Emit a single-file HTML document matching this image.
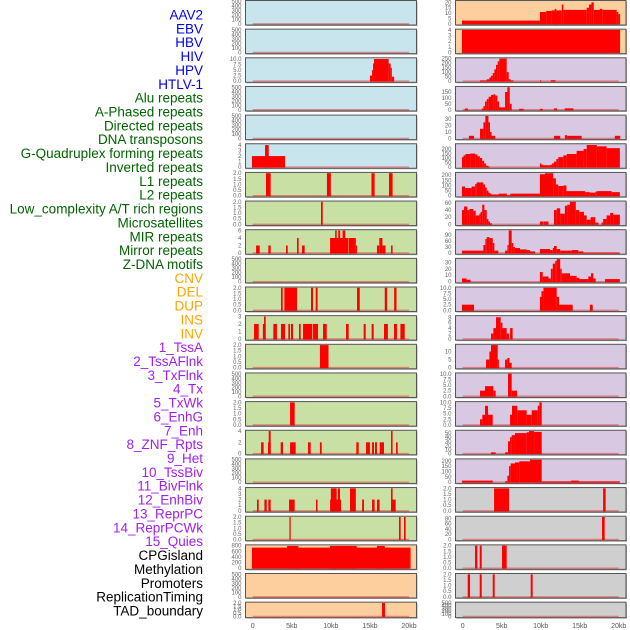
<!DOCTYPE html>
<html><head><meta charset="utf-8"><style>
html,body{margin:0;padding:0;background:#fff;}
svg{display:block;font-family:"Liberation Sans",sans-serif;}
</style></head><body>
<svg id="chart" width="630" height="630" viewBox="0 0 630 630" xmlns="http://www.w3.org/2000/svg"></svg>
<script>
// ---------- data ----------
const labelNames = ["AAV2","EBV","HBV","HIV","HPV","HTLV-1","Alu repeats","A-Phased repeats","Directed repeats","DNA transposons","G-Quadruplex forming repeats","Inverted repeats","L1 repeats","L2 repeats","Low_complexity A/T rich regions","Microsatellites","MIR repeats","Mirror repeats","Z-DNA motifs","CNV","DEL","DUP","INS","INV","1_TssA","2_TssAFlnk","3_TxFlnk","4_Tx","5_TxWk","6_EnhG","7_Enh","8_ZNF_Rpts","9_Het","10_TssBiv","11_BivFlnk","12_EnhBiv","13_ReprPC","14_ReprPCWk","15_Quies","CPGisland","Methylation","Promoters","ReplicationTiming","TAD_boundary"];
const labelColors = ["#0000ee","#0000ee","#0000ee","#0000ee","#0000ee","#0000ee","#006400","#006400","#006400","#006400","#006400","#006400","#006400","#006400","#006400","#006400","#006400","#006400","#006400","#ffa500","#ffa500","#ffa500","#ffa500","#ffa500","#a020f0","#a020f0","#a020f0","#a020f0","#a020f0","#a020f0","#a020f0","#a020f0","#a020f0","#a020f0","#a020f0","#a020f0","#a020f0","#a020f0","#a020f0","#000","#000","#000","#000","#000"];
const xTickLabels = ["0","5kb","10kb","15kb","20kb"];
const xTickValues = [0,5,10,15,20];

const T500=["0","100","200","300","400","500"], T2=["0.0","0.5","1.0","1.5","2.0"], T10=["0.0","2.5","5.0","7.5","10.0"];
const panelColors = [
 "#c8e4ec","#c8e4ec","#c8e4ec","#c8e4ec","#c8e4ec","#c8e4ec",
 "#c8e0a3","#c8e0a3","#c8e0a3","#c8e0a3","#c8e0a3","#c8e0a3","#c8e0a3","#c8e0a3","#c8e0a3","#c8e0a3","#c8e0a3","#c8e0a3","#c8e0a3",
 "#fdcf9e","#fdcf9e","#fdcf9e",
 "#fdcf9e","#fdcf9e",
 "#d8c8e2","#d8c8e2","#d8c8e2","#d8c8e2","#d8c8e2","#d8c8e2","#d8c8e2","#d8c8e2","#d8c8e2","#d8c8e2","#d8c8e2","#d8c8e2","#d8c8e2","#d8c8e2","#d8c8e2",
 "#cfcfcf","#cfcfcf","#cfcfcf","#cfcfcf","#cfcfcf"];
const panelMax = [500,500,10.2,500,500,4.1,2,2,6,500,2,3,2,500,2,4,500,4,2,800,500,2,
 21,4,250,190,35,250,220,63,113,35,10,8.3,14,10,10,55,210,2,85,2,2,500];
const panelTicks = [T500,T500,T10,T500,T500,["0","1","2","3","4"],T2,T2,["0","2","4","6"],T500,T2,["0","1","2","3"],T2,T500,T2,["0","2","4"],T500,["0","1","2","3","4"],T2,["0","200","400","600","800"],T500,T2,
 ["0","5","10","15","20"],["0","1","2","3","4"],["0","50","100","150","200","250"],["0","50","100","150"],["0","10","20","30"],["0","50","100","150","200"],["0","50","100","150","200"],["0","20","40","60"],["0","30","60","90"],["0","10","20","30"],T10,["0","2","4","6","8"],["0","5","10"],T10,T10,["0","10","20","30","40","50"],["0","50","100","150","200"],T2,["0","20","40","60","80"],T2,T2,T500];
const panelSegs = [
 [],[],
 [[15.0,15.27,2.5],[15.27,15.4,5],[15.4,15.52,8],[15.52,17.4,10],[17.4,17.65,8],[17.65,17.8,6],[17.8,18.1,2]],
 [],[],
 [[-0.1,4.14,2],[1.58,2.05,4]],
 [[1.7,2.3,2],[9.5,10.0,2],[15.2,15.6,2],[17.44,17.9,2]],
 [[8.74,8.96,2]],
 [[0.43,0.9,2],[2.0,2.3,2],[4.26,4.48,2],[5.67,5.88,4],[6.3,6.65,2],[9.9,12.24,4],[10.55,10.75,6],[10.95,11.2,6],[11.5,11.85,6],[12.3,13.2,4],[13.2,13.35,2],[15.9,16.2,2],[16.2,16.6,4],[16.6,17.0,2],[17.7,17.9,2]],
 [],
 [[3.62,3.84,2],[4.05,5.67,2],[7.46,7.72,2],[8.06,8.3,2],[13.35,13.7,2],[16.9,17.2,2],[18.1,18.4,2]],
 [[0.17,0.77,2],[1.3,1.66,2],[1.45,1.66,3],[2.64,3.1,2],[3.62,4.14,2],[4.56,4.78,2],[4.9,5.16,2],[5.93,6.14,2],[6.44,7.63,2],[7.72,8.36,2],[9.0,9.47,2],[11.94,12.28,2],[14.2,14.46,2],[15.22,15.48,2],[16.8,17.3,2],[18.08,18.46,2],[18.9,19.45,2]],
 [[8.6,9.7,2]],
 [],
 [[4.78,5.37,2]],
 [[1.07,1.4,2],[1.96,2.3,2],[2.05,2.3,4],[3.58,3.88,2],[4.78,5.5,2],[7.08,7.42,2],[8.6,8.83,2],[13.26,13.56,2],[14.5,15.0,2],[15.27,15.52,2],[15.65,15.9,2],[16.25,16.8,2],[17.7,17.9,4],[18.34,18.55,2]],
 [],
 [[0.55,0.77,2],[1.5,1.8,2],[2.0,2.3,2],[4.65,5.37,2],[8.1,8.3,2],[9.9,11.3,2],[10.0,10.75,4],[10.9,11.17,4],[12.45,13.2,4],[14.0,14.24,2],[15.27,15.6,2],[15.9,16.24,2],[17.7,18.3,2],[17.7,17.9,4]],
 [[4.7,4.86,2],[18.72,18.93,2],[19.36,19.57,2]],
 [[-0.1,20.2,730],[4.4,5.84,790],[9.9,13.3,790],[15.9,16.9,790]],
 [],
 [[16.55,16.93,2]],
 // right column
 [[-0.1,9.9,3],[9.9,10.7,11],[10.7,11.4,12],[11.4,12.7,12.5],[11.8,12.0,14],[12.7,12.9,18],[12.9,15.9,13],[15.9,16.2,15],[16.2,16.5,18],[16.5,16.8,20],[16.8,17.6,13],[17.6,17.9,14],[17.9,19.74,13],[19.74,19.96,11],[19.96,20.17,9]],
 [[-0.1,20.17,4]],
 [[2.22,3.08,8],[3.08,3.42,20],[3.42,3.63,40],[3.63,3.85,60],[3.85,4.06,90],[4.06,4.27,130],[4.27,4.49,180],[4.49,4.7,220],[4.7,5.64,250],[5.64,5.9,100],[5.9,6.15,20],[6.15,6.5,8],[9.9,10.0,8],[11.3,11.9,10]],
 [[0.26,0.68,10],[2.44,2.65,10],[2.65,2.86,30],[2.86,3.08,70],[3.08,3.33,90],[3.33,3.63,110],[3.63,3.93,125],[3.93,4.19,130],[4.19,4.44,120],[4.44,4.66,70],[4.66,5.43,20],[5.43,5.73,150],[5.73,6.03,190],[6.03,6.28,50],[7.22,7.82,8],[9.91,10.26,8],[11.7,12.1,12],[13.08,14.2,12]],
 [[0.8,1.45,4],[2.22,2.65,15],[2.65,2.9,25],[2.9,3.3,35],[3.3,3.5,25],[3.5,3.7,10],[3.7,4.15,4],[11.7,12.5,4],[13.1,13.4,5],[13.4,15.25,4],[19.5,20.2,4]],
 [[-0.1,0.1,110],[0.1,0.35,130],[0.35,0.95,145],[0.95,1.6,150],[1.6,1.9,140],[1.9,2.2,120],[2.2,2.5,100],[2.5,2.75,70],[2.75,3.0,40],[3.0,3.3,15],[3.3,3.4,5],[9.9,10.1,40],[10.1,10.35,25],[10.35,11.2,20],[11.2,11.45,25],[11.45,11.7,40],[11.7,12.0,60],[12.0,12.25,90],[12.25,12.9,110],[12.9,13.35,130],[13.35,14.6,145],[14.6,15.5,180],[15.5,15.9,200],[15.9,17.2,245],[17.2,18.45,230],[18.45,20.15,210]],
 [[-0.1,0.3,90],[0.3,1.15,75],[1.15,1.6,90],[1.6,1.8,115],[1.8,2.65,130],[2.65,2.86,110],[2.86,3.08,80],[3.08,3.3,50],[3.3,3.5,30],[3.5,3.7,20],[3.7,4.6,12],[4.6,5.65,20],[5.65,6.1,5],[6.1,9.9,20],[9.9,10.55,210],[10.55,11.6,220],[11.6,11.95,170],[11.95,12.25,110],[12.25,12.9,95],[12.9,13.3,100],[13.3,15.7,45],[15.7,16.3,35],[16.3,17.0,30],[17.0,17.2,40],[17.2,19.1,45],[19.1,20.15,35]],
 [[-0.1,0.17,40],[0.17,0.6,50],[0.6,0.85,40],[0.85,1.37,43],[1.37,1.67,38],[1.67,2.14,25],[2.14,2.3,30],[2.3,2.5,35],[2.5,2.78,55],[2.78,3.08,40],[3.08,3.3,15],[3.3,3.5,8],[3.5,3.76,3],[9.9,10.35,8],[10.4,11.0,8],[11.7,12.05,40],[12.05,12.5,45],[12.5,13.1,30],[13.1,13.4,52],[13.4,13.75,55],[13.75,14.5,63],[14.5,14.95,40],[14.95,15.55,35],[15.55,15.9,25],[15.9,16.4,13],[16.4,17.0,20],[17.0,17.4,5],[17.8,18.0,5],[18.0,18.45,15],[18.45,18.9,25],[18.9,19.3,32],[19.3,20.15,27]],
 [[-0.1,2.4,12],[2.4,2.65,12],[2.65,2.9,40],[2.9,3.08,70],[3.08,3.42,80],[3.42,3.85,75],[3.85,4.06,50],[4.06,4.57,12],[5.43,5.73,12],[5.73,5.9,40],[5.9,6.28,113],[6.28,6.5,50],[6.5,6.7,30],[6.7,7.35,25],[7.35,8.2,18],[8.2,8.63,15],[8.63,9.27,8],[9.9,11.2,20],[11.2,11.55,15],[11.55,11.7,25],[11.7,12.05,35],[12.05,12.5,20],[12.5,14.0,12],[14.0,14.83,15],[14.83,15.47,8],[15.47,20.15,2]],
 [[-0.1,0.5,5],[0.5,1.0,3],[9.9,10.26,15],[10.26,11.0,8],[11.0,11.3,5],[11.3,11.55,20],[11.55,11.85,28],[11.85,12.05,32],[12.05,12.5,35],[12.5,12.7,20],[12.7,13.76,13],[13.76,14.6,9],[14.6,14.96,6],[14.96,16.1,4],[16.1,16.45,8],[16.45,16.75,13],[16.75,17.05,5],[18.25,20.15,4]],
 [[-0.1,1.45,2.5],[9.9,10.1,6],[10.1,10.35,8.5],[10.35,12.05,10],[12.05,12.35,6],[12.35,14.1,2.5],[16.3,16.67,2.5]],
 [[3.63,3.93,2],[3.93,4.27,4],[4.27,4.87,8],[4.87,5.1,6],[5.1,5.64,4],[5.64,5.94,2],[6.07,6.4,4]],
 [[2.99,3.42,5],[3.42,3.63,10],[3.63,4.49,14],[4.49,4.62,5],[5.43,5.73,5],[5.73,6.0,6],[6.0,6.28,3]],
 [[2.22,2.86,2.5],[2.86,3.93,4.5],[3.93,4.23,2.5],[5.81,6.28,10],[6.28,6.97,2.5]],
 [[2.22,2.52,2.5],[2.52,2.86,4.5],[2.86,3.25,8.5],[3.25,3.85,4.5],[6.07,6.32,4.5],[6.32,7.0,8.5],[7.0,8.2,6.5],[8.2,8.85,4.5],[8.85,9.62,6.5],[9.62,9.83,8.5],[9.83,10.13,10]],
 [[3.63,4.23,3],[5.43,5.81,3],[5.81,6.07,30],[6.07,6.28,40],[6.28,6.7,45],[6.7,8.2,50],[8.2,8.5,52],[8.5,9.15,55],[9.15,10.13,53]],
 [[-0.1,3.85,15],[5.43,5.73,10],[5.73,5.94,60],[5.94,6.15,150],[6.15,6.7,175],[6.7,7.26,185],[7.26,8.63,195],[8.63,10.13,210],[10.13,13.9,8],[13.9,14.9,15],[14.9,20.15,8]],
 [[4.02,5.94,2],[18.0,18.33,2]],
 [[17.86,18.2,85]],
 [[1.58,1.88,2],[2.18,2.44,2],[5.04,5.64,2]],
 [[0.64,0.94,2],[2.18,2.44,2],[3.85,4.1,2],[8.72,8.97,2]],
 []
];

// ---------- drawing ----------
const svg = document.getElementById('chart');
const NS = "http://www.w3.org/2000/svg";
function mk(tag, attrs){ const e=document.createElementNS(NS,tag); for(const k in attrs) e.setAttribute(k,attrs[k]); svg.appendChild(e); return e; }
const cols = [{box0:245.5,box1:416.5,x0:252.7,x1:409,tickX:241.5},{box0:455.5,box1:626,x0:462.7,x1:618.7,tickX:451.5}];
function xScale(c,kb){ return c.x0 + (c.x1-c.x0)*kb/20; }
function panelTop(r){ return 28.65*r + 0.5; }
function panelH(r){ return r===21 ? 15.5 : 24.5; }

labelNames.forEach((n,i)=>{
  const t = mk('text',{x:203,y:15+13.86*i,'text-anchor':'end','dominant-baseline':'central','font-size':'13.5',fill:labelColors[i]});
  t.textContent = n;
  
  
});

for(let p=0;p<44;p++){
  const c = cols[p<22?0:1], r = p%22;
  const top = panelTop(r), h = panelH(r);
  const y0 = top + h - 1.2, y1 = top + 0.8;
  const max = panelMax[p];
  const yS = v => y0 - (y0-y1)*v/max;
  const slug = labelNames[p].toLowerCase().replace(/[^a-z0-9]+/g,'-');
  mk('rect',{x:c.box0+1,y:top+1,width:c.box1-c.box0,height:h,fill:'#aaa'});
  const bg = mk('rect',{x:c.box0,y:top,width:c.box1-c.box0,height:h,fill:panelColors[p],stroke:'#555','stroke-width':1});
  
  
  mk('line',{x1:xScale(c,0),x2:xScale(c,20),y1:y0,y2:y0,stroke:'rgba(230,60,60,0.55)','stroke-width':1.4});
  (panelSegs[p]||[]).forEach(s=>{
    const xa = xScale(c,s[0]), xb = xScale(c,s[1]);
    const b = mk('rect',{x:xa,y:yS(s[2]),width:Math.max(xb-xa,1.2),height:y0-yS(s[2])+0.5,fill:'#ff0000'});
    
    
  });
  (panelTicks[p]||[]).forEach(tk=>{
    const t = mk('text',{x:c.tickX,y:yS(parseFloat(tk))+2,'text-anchor':'end','font-size':'6',fill:'#666'});
    t.textContent = tk;
    
    
  });
}
cols.forEach(c=>{
  xTickValues.forEach((v,i)=>{
    const t = mk('text',{x:xScale(c,v),y:628,'text-anchor':'middle','font-size':'7',fill:'#555'});
    t.textContent = xTickLabels[i];
    
    
  });
});
</script>
</body></html>
